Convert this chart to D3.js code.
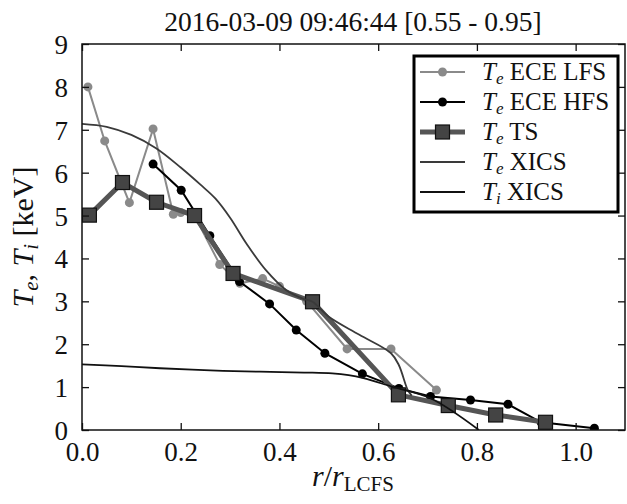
<!DOCTYPE html>
<html><head><meta charset="utf-8">
<script src="https://cdn.jsdelivr.net/npm/d3@7"></script>
<style>body{margin:0;background:#fff}svg{display:block}text{font-family:"Liberation Serif",serif;fill:#111}</style>
</head><body><svg id="c" width="627" height="504"></svg>
<script>
const title = "2016-03-09 09:46:44 [0.55 - 0.95]";
const xTicks = [0.0, 0.2, 0.4, 0.6, 0.8, 1.0];
const yTicks = [0,1,2,3,4,5,6,7,8,9];
const teEceLfs = [[0.012,8.0],[0.046,6.74],[0.096,5.30],[0.144,7.02],[0.185,5.03],[0.20,5.07],[0.228,5.0],[0.279,3.86],[0.32,3.42],[0.366,3.53],[0.40,3.35],[0.455,3.0],[0.537,1.89],[0.626,1.89],[0.718,0.93]];
const teEceHfs = [[0.144,6.20],[0.201,5.59],[0.259,4.53],[0.319,3.46],[0.38,2.94],[0.434,2.33],[0.492,1.79],[0.568,1.31],[0.642,0.97],[0.706,0.78],[0.787,0.70],[0.863,0.60],[0.93,0.18],[1.038,0.04]];
const teTs = [[0.015,5.01],[0.082,5.77],[0.151,5.31],[0.228,5.0],[0.306,3.65],[0.467,2.99],[0.641,0.82],[0.742,0.57],[0.838,0.35],[0.939,0.18]];
const teXics = [[0.0,7.14],[0.05,7.07],[0.10,6.88],[0.15,6.57],[0.20,6.12],[0.24,5.72],[0.27,5.40],[0.30,4.95],[0.333,4.35],[0.373,3.72],[0.414,3.26],[0.45,3.05],[0.467,2.99],[0.50,2.64],[0.562,2.22],[0.626,1.79],[0.642,1.51],[0.66,0.93],[0.668,0.80]];
const tiXics = [[0.0,1.53],[0.08,1.49],[0.158,1.44],[0.26,1.39],[0.36,1.36],[0.45,1.34],[0.507,1.32],[0.54,1.28],[0.57,1.21],[0.628,1.01],[0.706,0.74],[0.804,0.0]];

const svg = d3.select("#c");
const M = {l:82, r:625, t:44, b:430};
const x = d3.scaleLinear().domain([0,1.1]).range([M.l, M.r]);
const y = d3.scaleLinear().domain([0,9]).range([M.b, M.t]);

svg.append("text").attr("x",353).attr("y",31).attr("text-anchor","middle").attr("font-size",27.5).text(title);

svg.append("defs").append("clipPath").attr("id","clip").append("rect")
  .attr("x",M.l).attr("y",M.t).attr("width",M.r-M.l).attr("height",M.b-M.t);
const g = svg.append("g").attr("clip-path","url(#clip)");
const line = d3.line().x(d=>x(d[0])).y(d=>y(d[1]));
const smooth = d3.line().x(d=>x(d[0])).y(d=>y(d[1])).curve(d3.curveCatmullRom.alpha(0.5));

g.append("path").datum(teEceLfs).attr("d",line).attr("fill","none").attr("stroke","#8a8a8a").attr("stroke-width",2);
g.selectAll(".lfs").data(teEceLfs).join("circle").attr("cx",d=>x(d[0])).attr("cy",d=>y(d[1])).attr("r",4.5).attr("fill","#8a8a8a");
g.append("path").datum(teEceHfs).attr("d",line).attr("fill","none").attr("stroke","#000").attr("stroke-width",2);
g.selectAll(".hfs").data(teEceHfs).join("circle").attr("cx",d=>x(d[0])).attr("cy",d=>y(d[1])).attr("r",4.5).attr("fill","#000");
g.append("path").datum(teTs).attr("d",line).attr("fill","none").attr("stroke","#555").attr("stroke-width",5);
g.selectAll(".ts").data(teTs).join("rect").attr("x",d=>x(d[0])-7).attr("y",d=>y(d[1])-7).attr("width",14).attr("height",14)
  .attr("fill","#444").attr("stroke","#111").attr("stroke-width",1.2);
g.append("path").datum(teXics).attr("d",smooth).attr("fill","none").attr("stroke","#3a3a3a").attr("stroke-width",1.8);
g.append("path").datum(tiXics).attr("d",smooth).attr("fill","none").attr("stroke","#111").attr("stroke-width",1.8);

const ax = svg.append("g");
const tl = 7;
const xa = ax.append("g").attr("transform",`translate(0,${M.b})`).call(d3.axisBottom(x).tickValues(xTicks).tickSizeInner(-tl).tickSizeOuter(0).tickPadding(12).tickFormat(d3.format(".1f")));
ax.append("g").attr("transform",`translate(0,${M.t})`).call(d3.axisTop(x).tickValues(xTicks).tickSizeInner(-tl).tickSizeOuter(0).tickFormat(""));
const ya = ax.append("g").attr("transform",`translate(${M.l},0)`).call(d3.axisLeft(y).tickValues(yTicks).tickSizeInner(-tl).tickSizeOuter(0).tickPadding(14).tickFormat(d3.format("d")));
ax.append("g").attr("transform",`translate(${M.r},0)`).call(d3.axisRight(y).tickValues(yTicks).tickSizeInner(-tl).tickSizeOuter(0).tickFormat(""));
ax.selectAll(".domain").remove();
ax.selectAll(".tick line").attr("stroke","#111").attr("stroke-width",1.3);
ax.selectAll(".tick text").attr("font-family","Liberation Serif").attr("font-size",27).attr("fill","#111");
xa.selectAll(".tick text").attr("dy","0.71em");
ya.selectAll(".tick text").attr("dy","0.35em");
svg.append("rect").attr("x",M.l).attr("y",M.t).attr("width",M.r-M.l).attr("height",M.b-M.t).attr("fill","none").attr("stroke","#111").attr("stroke-width",1.5);

const xl = svg.append("text").attr("x",353).attr("y",486).attr("text-anchor","middle").attr("font-size",30);
xl.append("tspan").attr("font-style","italic").text("r");
xl.append("tspan").text("/");
xl.append("tspan").attr("font-style","italic").text("r");
xl.append("tspan").attr("font-size",21).attr("dy",5).text("LCFS");
const yl = svg.append("text").attr("transform","translate(33,237) rotate(-90)").attr("text-anchor","middle").attr("font-size",30);
yl.append("tspan").attr("font-style","italic").text("T");
yl.append("tspan").attr("font-style","italic").attr("font-size",21).attr("dy",5).text("e");
yl.append("tspan").attr("dy",-5).text(", ");
yl.append("tspan").attr("font-style","italic").text("T");
yl.append("tspan").attr("font-style","italic").attr("font-size",21).attr("dy",5).text("i");
yl.append("tspan").attr("dy",-5).text(" [keV]");

const legendItems = [
  {sub:"e", name:"ECE LFS", color:"#8a8a8a", w:2, marker:"circle", mfill:"#8a8a8a"},
  {sub:"e", name:"ECE HFS", color:"#000", w:2, marker:"circle", mfill:"#000"},
  {sub:"e", name:"TS", color:"#555", w:5, marker:"square", mfill:"#444"},
  {sub:"e", name:"XICS", color:"#3a3a3a", w:1.8, marker:null},
  {sub:"i", name:"XICS", color:"#111", w:1.8, marker:null}
];
const lg = svg.append("g");
lg.append("rect").attr("x",414).attr("y",56).attr("width",204).attr("height",156).attr("fill","#fff").attr("stroke","#000").attr("stroke-width",3);
legendItems.forEach((it,i)=>{
  const cy = 72 + i*30;
  lg.append("line").attr("x1",420).attr("x2",465).attr("y1",cy).attr("y2",cy).attr("stroke",it.color).attr("stroke-width",it.w);
  if(it.marker==="circle") lg.append("circle").attr("cx",442.5).attr("cy",cy).attr("r",4.5).attr("fill",it.mfill);
  if(it.marker==="square") lg.append("rect").attr("x",435.5).attr("y",cy-7).attr("width",14).attr("height",14).attr("fill",it.mfill).attr("stroke","#111").attr("stroke-width",1.2);
  const t = lg.append("text").attr("x",482).attr("y",cy+8).attr("font-size",25);
  t.append("tspan").attr("font-style","italic").text("T");
  t.append("tspan").attr("font-style","italic").attr("font-size",17).attr("dy",4).text(it.sub);
  t.append("tspan").attr("dy",-4).text(" "+it.name);
});
</script></body></html>
